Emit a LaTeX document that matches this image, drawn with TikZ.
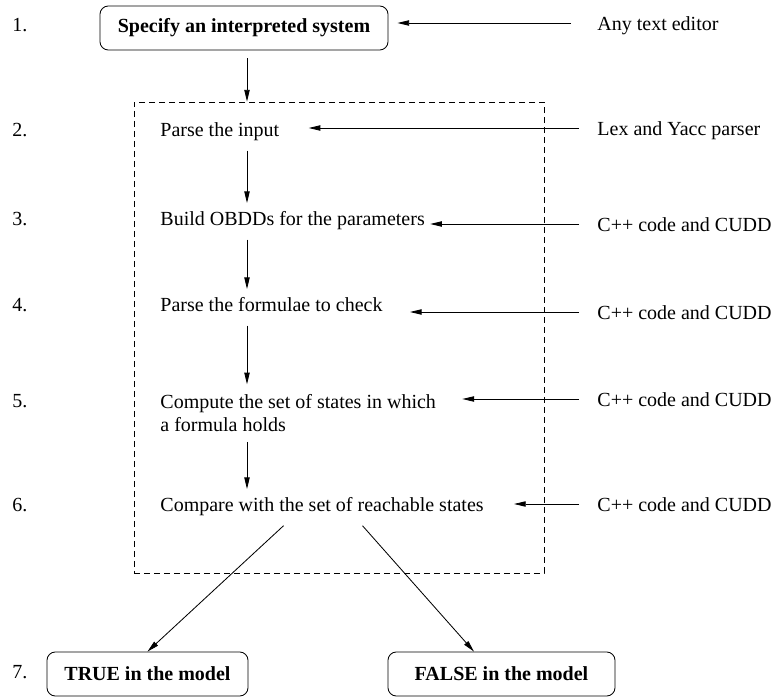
\documentclass[tikz,border=0pt]{standalone}
\usepackage{fontspec}
\setmainfont{Liberation Serif}
\usetikzlibrary{arrows.meta}

\begin{document}
\begin{tikzpicture}[x=0.6pt,y=-0.6pt,line width=0.5pt,>={Triangle[length=7pt,width=3.2pt]},
  every node/.style={font=\fontsize{12}{14.4}\selectfont},
  stepbox/.style={draw,rounded corners=5pt,minimum height=26.4pt,inner sep=0pt,font=\fontsize{12}{14.4}\selectfont\bfseries},
  steptext/.style={anchor=base west,inner xsep=0pt,inner ysep=5.5pt,text height=8pt,text depth=2.5pt},
  tool/.style={anchor=west,inner xsep=10.8pt,inner ysep=0pt,text height=11pt,text depth=2pt},
  num/.style={anchor=base west,inner sep=0pt}]
  \useasboundingbox (0,0) rectangle (771,697);
  \coordinate (spine) at (247,0);
  \node[draw,dashed,dash pattern=on 3.6pt off 2.4pt,minimum width=246pt,minimum height=282.6pt,inner sep=0pt] (frame) at (339,337.5) {};
  \foreach \n/\y in {1/32,2/137,3/226,4/312,5/408,6/512,7/678} \node[num] (n\n) at (12,\y) {\n.};
  \node[stepbox,minimum width=172.8pt] (spec) at (244,28) {Specify an interpreted system};
  \node[steptext] (s2) at (160,137) {Parse the input};
  \node[steptext] (s3) at (160,226) {Build OBDDs for the parameters};
  \node[steptext] (s4) at (160,312) {Parse the formulae to check};
  \node[anchor=base west,inner xsep=0pt,inner ysep=5.5pt,align=left] (s5) at (160,432) {Compute the set of states in which\\a formula holds};
  \node[steptext] (s6) at (160,512) {Compare with the set of reachable states};
  \node[stepbox,minimum width=120.6pt] (true) at (147.5,674) {TRUE in the model};
  \node[stepbox,minimum width=136.2pt] (false) at (501.5,674) {FALSE in the model};
  \node[tool,inner xsep=15.6pt] (t1) at (571,23) {Any text editor};
  \node[tool] (t2) at (579,128) {Lex and Yacc parser};
  \foreach \i/\y in {3/224,4/312,5/399,6/504} \node[tool] (t\i) at (579,\y) {C++ code and CUDD};
  \draw[->,shorten <=4.8pt] (spec.south -| spine) -- (frame.north -| spine);
  \draw[->] (s2.south -| spine) -- (s3.north -| spine);
  \draw[->] (s3.south -| spine) -- (s4.north -| spine);
  \draw[->] (s4.south -| spine) -- (s5.north -| spine);
  \draw[->] (s5.south -| spine) -- (s6.north -| spine);
  \draw[->] ([xshift=-23.1pt]s6.south) -- (true.north);
  \draw[->] ([xshift=24.3pt]s6.south) -- ([xshift=-16.5pt]false.north);
  \draw[->,shorten >=5.4pt] (t1.west) -- (t1.west -| spec.east);
  \draw[->,shorten >=17.4pt] (t2.west) -- (t2.west -| s2.east);
  \draw[->,shorten >=3pt] (t3.west) -- (t3.west -| s3.east);
  \draw[->,shorten >=16.2pt] (t4.west) -- (t4.west -| s4.east);
  \draw[->,shorten >=15.6pt] (t5.west) -- (t5.west -| s5.east);
  \draw[->,shorten >=18pt] (t6.west) -- (t6.west -| s6.east);
\end{tikzpicture}
\end{document}
